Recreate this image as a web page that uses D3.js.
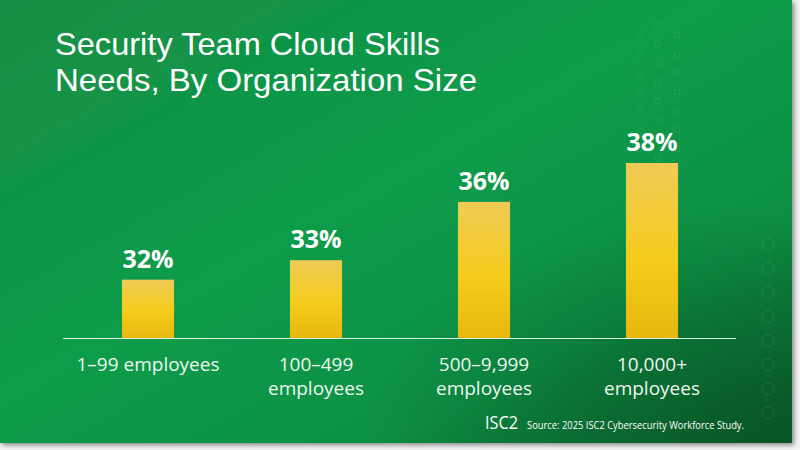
<!DOCTYPE html>
<html>
<head>
<meta charset="utf-8">
<script src="https://cdn.jsdelivr.net/npm/d3@7/dist/d3.min.js"></script>
<style>
html,body{margin:0;padding:0;background:#f3f3f3;}
svg{display:block;}
text{font-family:"Open Sans",sans-serif;}
</style>
</head>
<body>
<svg id="chart" width="800" height="450"></svg>
<script>
const categories = [["1–99 employees"], ["100–499", "employees"], ["500–9,999", "employees"], ["10,000+", "employees"]];
const values = [32, 33, 36, 38];
const valueLabels = ["32%", "33%", "36%", "38%"];
const titleLines = ["Security Team Cloud Skills", "Needs, By Organization Size"];
const sourceText = "Source: 2025 ISC2 Cybersecurity Workforce Study.";

const svg = d3.select("#chart");
const defs = svg.append("defs");

const bg = defs.append("linearGradient").attr("id","bg").attr("x1","0").attr("y1","0").attr("x2","1").attr("y2","1");
bg.append("stop").attr("offset","0").attr("stop-color","#168e44");
bg.append("stop").attr("offset","0.45").attr("stop-color","#0c9c4a");
bg.append("stop").attr("offset","0.75").attr("stop-color","#0b9044");
bg.append("stop").attr("offset","1").attr("stop-color","#0a6a31");

const vign = defs.append("radialGradient").attr("id","vign").attr("cx","1").attr("cy","1").attr("r","0.55");
vign.append("stop").attr("offset","0").attr("stop-color","#064d22").attr("stop-opacity",0.75);
vign.append("stop").attr("offset","1").attr("stop-color","#064d22").attr("stop-opacity",0);

const barG = defs.append("linearGradient").attr("id","barg").attr("x1","0").attr("y1","0").attr("x2","0").attr("y2","1");
barG.append("stop").attr("offset","0").attr("stop-color","#efcb55");
barG.append("stop").attr("offset","0.55").attr("stop-color","#f5cc1c");
barG.append("stop").attr("offset","1").attr("stop-color","#e8b70e");

const shadow = defs.append("filter").attr("id","shadow").attr("x","-5%").attr("y","-5%").attr("width","115%").attr("height","115%");
shadow.append("feDropShadow").attr("dx",2).attr("dy",2).attr("stdDeviation",2.5).attr("flood-color","#000").attr("flood-opacity",0.45);

const W = 792, H = 443;
svg.append("rect").attr("x",0).attr("y",0).attr("width",W).attr("height",H).attr("fill","url(#bg)").attr("filter","url(#shadow)");
svg.append("rect").attr("x",0).attr("y",0).attr("width",W).attr("height",H).attr("fill","url(#vign)");

// faint decorative circles
const deco = svg.append("g").attr("fill","none").attr("stroke","#7fd49a").attr("stroke-opacity",0.14).attr("stroke-width",1);
d3.range(9).forEach(i => {
  deco.append("circle").attr("cx",640).attr("cy",35+i*19).attr("r",3);
  deco.append("circle").attr("cx",658).attr("cy",25+i*19).attr("r",3);
  deco.append("circle").attr("cx",677).attr("cy",35+i*19).attr("r",3);
});
d3.range(8).forEach(i => {
  deco.append("circle").attr("cx",768).attr("cy",245+i*24).attr("r",6);
});

// title (two separate lines)
const titleWidths = [385, 422];
svg.append("g").selectAll("text").data(titleLines).join("text")
  .attr("x",55).attr("y",(d,i)=>55+i*36).attr("fill","#ffffff")
  .style("font-family","'Liberation Sans', Arial, sans-serif")
  .attr("font-size",32).attr("font-weight",400)
  .attr("textLength",(d,i)=>titleWidths[i]).attr("lengthAdjust","spacingAndGlyphs")
  .text(d=>d);

// scales
const x = d3.scaleBand().domain(d3.range(values.length)).range([64, 736]).paddingInner(0.69).paddingOuter(0.345);
const y = d3.scaleLinear().domain([29, 38]).range([338, 163]);

// bars
svg.append("g").selectAll("rect").data(values).join("rect")
  .attr("x",(d,i)=>x(i)).attr("width",x.bandwidth())
  .attr("y",d=>y(d)).attr("height",d=>y(29)-y(d))
  .attr("fill","url(#barg)");

// baseline axis
const xAxis = d3.axisBottom(x).tickSize(0).tickFormat("");
const ax = svg.append("g").attr("transform","translate(0,338)").call(xAxis);
ax.select(".domain").attr("stroke","#d9efdf").attr("stroke-width",1.2).attr("d","M63,0.5H736");

// value labels
svg.append("g").selectAll("text").data(values).join("text")
  .attr("x",(d,i)=>x(i)+x.bandwidth()/2).attr("y",d=>y(d)-12)
  .attr("text-anchor","middle").attr("fill","#ffffff").attr("font-size",25).attr("font-weight",700)
  .text((d,i)=>valueLabels[i]);

// category labels
const cl = svg.append("g").selectAll("text").data(categories).join("text")
  .attr("x",(d,i)=>x(i)+x.bandwidth()/2).attr("y",371)
  .attr("text-anchor","middle").attr("fill","#eef7f0").attr("font-size",19).attr("font-weight",400);
cl.each(function(d,i){
  const t = d3.select(this);
  d.forEach((line,j)=> t.append("tspan").attr("x",x(i)+x.bandwidth()/2).attr("dy", j===0?0:24).text(line));
});

// footer
svg.append("text").attr("x",485).attr("y",429).attr("fill","#ffffff").attr("font-size",18).attr("font-weight",400)
  .attr("textLength",33).attr("lengthAdjust","spacingAndGlyphs").text("ISC2");
svg.append("text").attr("x",527).attr("y",429).attr("fill","#ffffff").attr("font-size",10)
  .attr("textLength",217).attr("lengthAdjust","spacingAndGlyphs").text(sourceText);
</script>
</body>
</html>
